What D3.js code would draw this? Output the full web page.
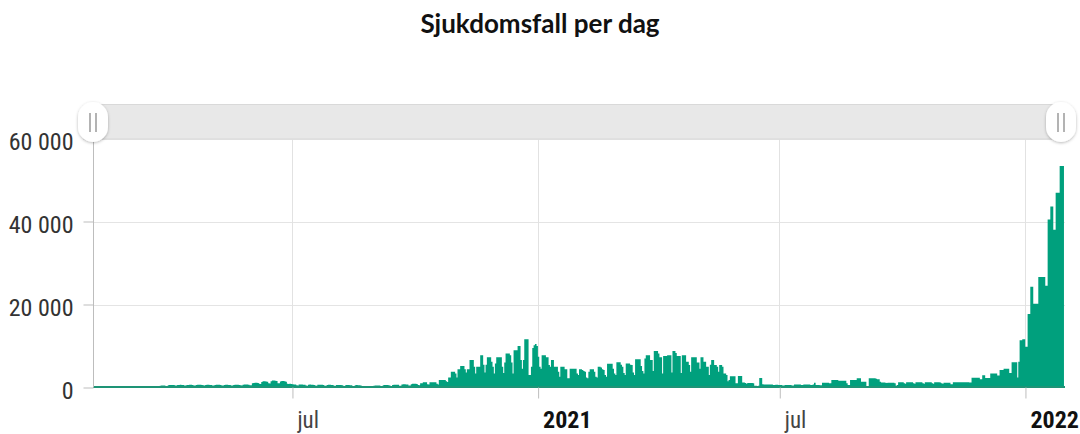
<!DOCTYPE html>
<html><head><meta charset="utf-8">
<script src="https://cdn.jsdelivr.net/npm/d3@7"></script>
<style>body{margin:0;background:#fff}svg{display:block}</style>
</head><body><svg id="c" width="1080" height="434"></svg>
<script>
const chartTitle = "Sjukdomsfall per dag";
const firstDate = "2020-02-03";
// daily reported cases, one row per week (Mon..Sun) starting at firstDate
const dailyCases = [
0,1,0,0,0,0,0,
0,0,0,0,0,0,0,
0,0,0,0,0,0,0,
0,0,2,3,5,6,4,
12,18,30,45,50,35,28,
90,120,140,130,120,80,70,
170,190,210,200,190,130,120,
350,450,480,480,470,380,350,
560,590,600,600,580,500,480,
600,620,640,630,600,500,480,
580,620,640,640,600,500,480,
620,650,660,640,620,520,500,
600,640,650,630,600,500,480,
620,650,660,640,610,510,490,
600,640,650,630,600,500,480,
620,660,670,650,620,520,500,
650,700,720,700,680,560,540,
1000,1100,1150,1150,1100,900,850,
1300,1500,1500,1450,1400,1000,950,
1500,1700,1700,1650,1550,1050,1000,
1450,1550,1550,1500,1400,900,850,
900,850,800,750,700,550,500,
700,720,700,680,650,480,450,
680,700,680,650,620,460,430,
650,680,660,640,600,450,420,
620,650,640,620,580,430,400,
600,620,600,580,560,400,380,
580,600,580,560,540,380,360,
560,580,560,540,500,300,280,
350,380,360,340,330,280,260,
450,500,500,480,460,330,310,
550,600,600,580,560,400,380,
620,680,680,660,640,450,420,
700,760,760,740,720,500,480,
800,900,900,880,850,600,560,
1000,1000,1250,1250,1250,800,700,
1250,1250,1250,1250,1250,900,750,
1800,1800,1800,1800,1800,1500,1300,
2400,2400,3800,3800,3800,3400,2400,
4400,4400,5200,5200,5200,4400,3600,
4400,4400,6600,6600,6600,5000,3400,
5000,5000,5000,7800,7800,5500,3600,
5500,7300,7300,7300,6200,5000,3400,
5800,7300,7300,7300,7300,5000,3500,
6000,8200,8200,8200,7800,6000,3400,
9000,9000,9000,10000,10000,6600,4500,
6600,11600,11600,11600,3000,3000,5000,
9500,10200,10500,10000,7400,5000,4500,
7800,7800,7800,7300,7300,5400,5000,
6600,6600,5000,5000,5000,3800,2600,
5000,5000,5000,4400,4400,2200,2200,
4500,4500,4500,4500,4500,3400,3000,
4400,4400,4200,4000,3800,2400,2200,
3800,4400,4400,4400,3800,2600,2400,
5000,5000,4800,4400,4200,3000,2600,
5700,5700,5700,5700,4500,3400,3000,
6100,6100,6100,5500,5000,3500,3000,
5800,5800,5800,5500,5400,3600,3000,
6800,6800,6800,6800,5200,4000,3400,
7000,7800,7800,7800,6600,6600,4000,
8800,8800,8800,8200,7300,7300,3400,
7600,7600,7600,7800,7800,7800,3600,
8800,8800,8300,7600,7600,7600,3500,
7800,7800,7800,6200,6200,5400,3800,
7300,7300,7300,7300,6000,6000,4500,
7300,7300,6200,6200,5000,5000,3000,
5500,6600,6600,5400,5400,5000,3800,
5400,5400,5000,3400,3400,3000,1500,
1800,2700,2700,2700,2700,1000,1000,
2800,2800,2800,1200,1200,1100,900,
1100,1100,1100,1100,1000,400,400,
300,400,2300,2300,800,700,700,
750,750,750,750,700,600,600,
650,650,600,600,600,500,500,
600,600,600,600,600,500,500,
750,750,750,750,700,600,600,
750,750,750,750,700,600,600,
700,1150,600,600,600,550,550,
1150,1150,1150,1150,1150,1000,1000,
1800,1800,1800,1800,1800,1600,1600,
1650,1650,1650,1650,1000,600,600,
1800,1800,1800,1800,1800,2200,2200,
2200,1400,1400,1400,1400,300,200,
2200,2200,2200,2200,2200,2100,2000,
2000,1400,1200,1200,1200,1150,1100,
1150,1150,1150,1150,1150,1000,450,
600,1250,1250,1250,1250,1000,900,
1250,1250,1250,1250,1250,1000,900,
1250,1250,1250,1250,1250,1000,900,
1250,1250,1250,1250,1250,1000,900,
1250,1250,1250,1250,1200,1000,900,
1150,1150,1150,1150,1150,770,770,
1250,1250,1250,1250,1250,1250,1250,
1250,1250,1250,1250,1250,1200,1200,
2350,2350,2350,2350,2350,2350,2000,
2000,2950,2950,2300,2300,2300,2300,
3400,3400,3400,3400,3400,2900,2900,
4200,4200,4200,4500,4500,4500,4500,
3500,3500,6100,6100,6100,6100,2400,
6200,11400,11400,11600,11600,9800,9800,
17700,17700,24300,24300,20200,20200,20200,
20200,26600,26600,26600,26600,26600,24500,
24500,40500,40500,43600,43600,38000,38000,
46900,46900,46900,53400,53400,53400
];
const yTickValues = [0, 20000, 40000, 60000];
const xTickDates = ["2020-07-01", "2021-01-01", "2021-07-01", "2022-01-01"];
const xTickLabels = ["jul", "2021", "jul", "2022"];
const xTickIsYear = [false, true, false, true];

const svg = d3.select("#c");
const parse = d3.utcParse("%Y-%m-%d");
const t0 = parse(firstDate);
const data = dailyCases.map((v, i) => ({date: d3.utcDay.offset(t0, i), value: v}));
const tEnd = d3.utcDay.offset(t0, dailyCases.length + 1);

const L = 93, R = 1065, B = 387.5, T = 138.5;
const x = d3.scaleUtc().domain([t0, tEnd]).range([L, R]);
const y = d3.scaleLinear().domain([0, 60000]).range([B, T]);
const fmt = d3.formatLocale({decimal: ",", thousands: " ", grouping: [3], currency: ["", ""]}).format(",d");
const tickFont = "'Liberation Sans Narrow','Roboto Condensed','DejaVu Sans Condensed',sans-serif";

svg.append("text").attr("x", 540).attr("y", 33).attr("text-anchor", "middle")
  .style("font-family", "Lato, 'Open Sans', sans-serif").style("font-weight", 700)
  .style("font-size", "26px").style("fill", "#111").text(chartTitle);

// horizontal gridlines
svg.append("g").selectAll("line").data(yTickValues.filter(v => v > 0)).join("line")
  .attr("x1", L).attr("x2", R).attr("y1", d => Math.round(y(d)) + 0.5).attr("y2", d => Math.round(y(d)) + 0.5)
  .attr("stroke", "#e4e4e4").attr("stroke-width", 1);

const xDates = xTickDates.map(parse);
// vertical gridlines
svg.append("g").selectAll("line").data(xDates).join("line")
  .attr("x1", d => Math.round(x(d)) + 0.5).attr("x2", d => Math.round(x(d)) + 0.5)
  .attr("y1", T).attr("y2", B).attr("stroke", "#e2e2e2").attr("stroke-width", 1);

// bars, drawn as one path so adjacent daily columns have no seams
const barPath = d3.path();
data.forEach(d => {
  const x0 = x(d.date), x1 = x(d3.utcDay.offset(d.date, 1)), yt = y(d.value);
  barPath.rect(x0, yt, x1 - x0 + 0.3, B - yt);
});
svg.append("path").attr("d", barPath.toString()).attr("fill", "#00a07d");

// baseline
svg.append("line").attr("x1", L).attr("x2", R).attr("y1", B - 0.5).attr("y2", B - 0.5)
  .attr("stroke", "#1e9476").attr("stroke-width", 2);

// y axis
const yAxis = svg.append("g").attr("transform", `translate(${L + 0.5},0)`)
  .call(d3.axisLeft(y).tickValues(yTickValues).tickSize(10).tickPadding(10).tickFormat(fmt));
yAxis.select(".domain").attr("stroke", "#bdbdbd").attr("d", `M0,${T}V${B}`);
yAxis.selectAll(".tick line").attr("stroke", "#bdbdbd");
yAxis.selectAll(".tick text").attr("dy", "0.45em")
  .style("font-family", tickFont).style("font-size", "24px").style("fill", "#333");

// x axis
const xAxis = svg.append("g").attr("transform", `translate(0,${B})`)
  .call(d3.axisBottom(x).tickValues(xDates).tickSize(11).tickFormat((d, i) => xTickLabels[i]));
xAxis.select(".domain").remove();
xAxis.selectAll(".tick line").attr("stroke", "#bdbdbd").attr("transform", "translate(0.5,0)");
xAxis.selectAll(".tick text").attr("text-anchor", "start").attr("x", 5).attr("y", 40).attr("dy", 0)
  .style("font-family", tickFont).style("font-size", (d, i) => xTickIsYear[i] ? "24px" : "23px")
  .style("font-weight", (d, i) => xTickIsYear[i] ? 700 : 400)
  .style("fill", (d, i) => xTickIsYear[i] ? "#111" : "#444");

// range slider (navigator)
const defs = svg.append("defs");
const f = defs.append("filter").attr("id", "sh").attr("x", "-50%").attr("y", "-50%").attr("width", "200%").attr("height", "200%");
f.append("feDropShadow").attr("dx", 0).attr("dy", 1).attr("stdDeviation", 1.6).attr("flood-color", "#000").attr("flood-opacity", 0.28);
svg.append("rect").attr("x", L).attr("y", 104.5).attr("width", 1062 - L).attr("height", 34.5)
  .attr("fill", "#e8e8e8").attr("stroke", "#d9d9d9").attr("stroke-width", 1);
const handles = [L, 1061];
const hg = svg.append("g").selectAll("g").data(handles).join("g").attr("transform", d => `translate(${d},122)`);
hg.append("rect").attr("x", -15).attr("y", -20).attr("width", 30).attr("height", 40).attr("rx", 15).attr("ry", 15)
  .attr("fill", "#fff").attr("filter", "url(#sh)");
hg.selectAll("line").data([-3, 3]).join("line").attr("x1", d => d).attr("x2", d => d).attr("y1", -9).attr("y2", 10)
  .attr("stroke", "#9a9a9a").attr("stroke-width", 1.5);
</script></body></html>
